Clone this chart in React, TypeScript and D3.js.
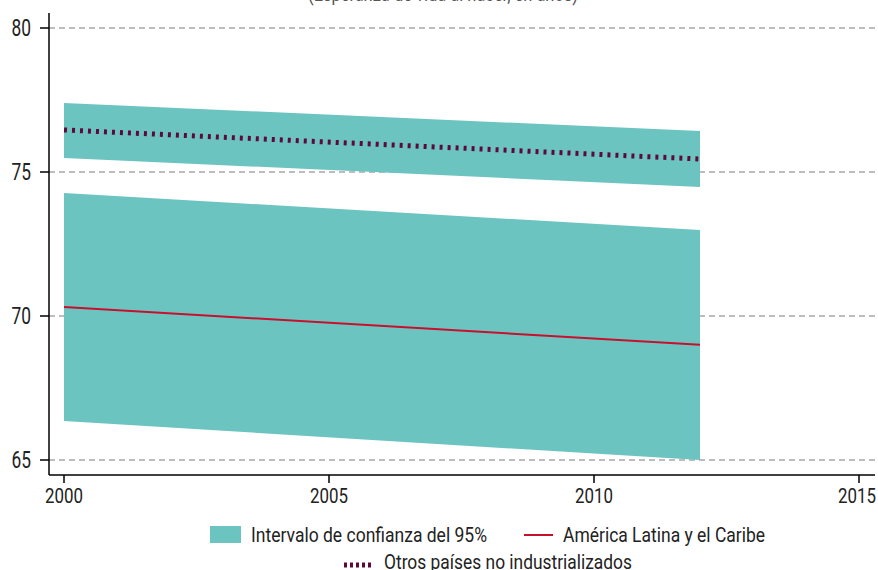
import React from "react";
import * as d3 from "d3";

const years = [2000, 2012];
const lacLine = [70.31, 69.0];
const lacLow = [66.35, 65.0];
const lacHigh = [74.27, 72.99];
const otrosLine = [76.46, 75.45];
const otrosLow = [75.49, 74.48];
const otrosHigh = [77.4, 76.42];
const yTicks = [65, 70, 75, 80];
const xTicks = [2000, 2005, 2010, 2015];
const title = "(Esperanza de vida al nacer, en años)";
const legendBand = "Intervalo de confianza del 95%";
const legendLac = "América Latina y el Caribe";
const legendOtros = "Otros países no industrializados";

const W = 878;
const H = 570;
const FONT = "Roboto, 'Liberation Sans', sans-serif";
const TEAL = "#6cc4c1";
const RED = "#c8102e";
const MAROON = "#5b0a3a";
const TXT = "#222";

export default function App() {
  const left = 49, right = 875, top = 13, bottom = 475;
  const x = d3.scaleLinear().domain([2000, 2015]).range([64, 859]);
  const y = d3.scaleLinear().domain([65, 80]).range([460, 28]);

  const idx = years.map((_, i) => i);
  const area = (lo: number[], hi: number[]) =>
    d3.area<number>().x((i) => x(years[i])).y0((i) => y(lo[i])).y1((i) => y(hi[i]))(idx) || "";
  const line = (v: number[]) => d3.line<number>().x((i) => x(years[i])).y((i) => y(v[i]))(idx) || "";

  return (
    <div style={{ position: "fixed", left: 0, top: 0, width: W, height: H, background: "#fff" }}>
      <svg width={W} height={H} style={{ display: "block", fontFamily: FONT }}>
        <text x={443} y={0.5} textAnchor="middle" fontSize={21} fill="#555" textLength={270} lengthAdjust="spacingAndGlyphs">{title}</text>
        {yTicks.map((t) => (
          <g key={t}>
            <line x1={left} x2={right} y1={y(t)} y2={y(t)} stroke="#a8a8a8" strokeWidth={1.3} strokeDasharray="6,4" />
            <line x1={left - 9} x2={left} y1={y(t)} y2={y(t)} stroke="#000" strokeWidth={1.5} />
            <text x={31} y={y(t) + 8} textAnchor="end" fontSize={23} fill={TXT} textLength={19.5} lengthAdjust="spacingAndGlyphs">{t}</text>
          </g>
        ))}
        <path d={area(otrosLow, otrosHigh)} fill={TEAL} />
        <path d={area(lacLow, lacHigh)} fill={TEAL} />
        <path d={line(lacLine)} fill="none" stroke={RED} strokeWidth={2} />
        <path d={line(otrosLine)} fill="none" stroke={MAROON} strokeWidth={5} strokeDasharray="3,5" />
        <line x1={left} x2={left} y1={top} y2={bottom} stroke="#000" strokeWidth={1.5} />
        <line x1={left} x2={right} y1={bottom} y2={bottom} stroke="#000" strokeWidth={1.5} />
        {xTicks.map((t) => (
          <g key={t}>
            <line x1={x(t)} x2={x(t)} y1={bottom} y2={bottom + 8} stroke="#000" strokeWidth={1.5} />
            <text x={t === 2015 ? x(t) - 2 : x(t)} y={503} textAnchor="middle" fontSize={21} fill={TXT} textLength={38} lengthAdjust="spacingAndGlyphs">{t}</text>
          </g>
        ))}
        <rect x={210} y={526} width={31} height={17} fill={TEAL} />
        <text x={251} y={542} fontSize={21} fill={TXT} textLength={236} lengthAdjust="spacingAndGlyphs">{legendBand}</text>
        <line x1={524} x2={553} y1={535} y2={535} stroke={RED} strokeWidth={2} />
        <text x={563} y={542} fontSize={21} fill={TXT} textLength={202} lengthAdjust="spacingAndGlyphs">{legendLac}</text>
        <line x1={344} x2={374} y1={565} y2={565} stroke={MAROON} strokeWidth={5} strokeDasharray="3,3" />
        <text x={384} y={569} fontSize={21} fill={TXT} textLength={248} lengthAdjust="spacingAndGlyphs">{legendOtros}</text>
      </svg>
    </div>
  );
}
